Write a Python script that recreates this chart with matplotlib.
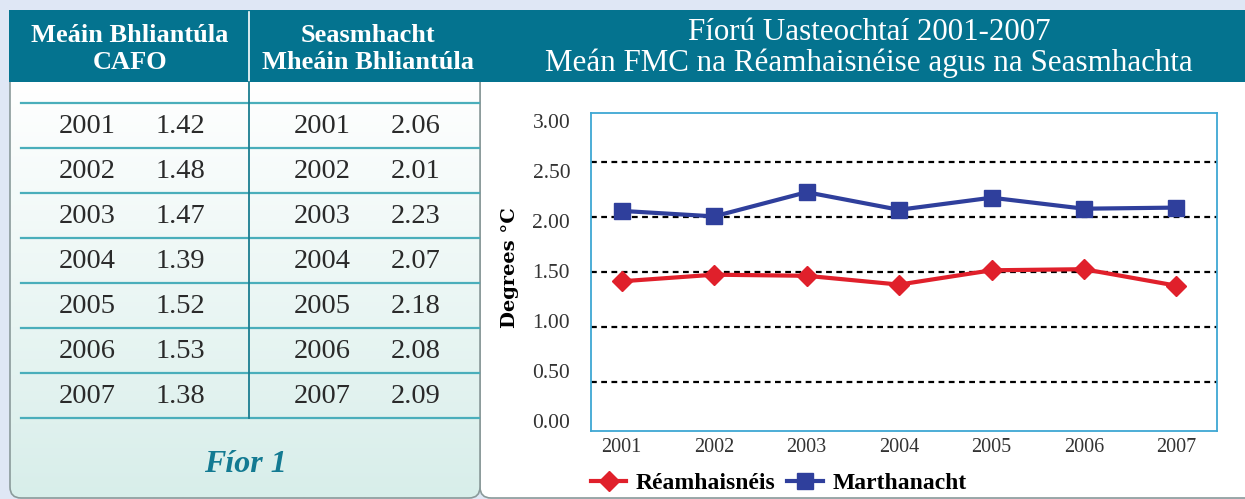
import numpy as np
import matplotlib.pyplot as plt
from matplotlib.patches import FancyBboxPatch, Rectangle
from matplotlib.colors import LinearSegmentedColormap
from matplotlib.ticker import FormatStrFormatter

years = [2001, 2002, 2003, 2004, 2005, 2006, 2007]
cafo = [1.42, 1.48, 1.47, 1.39, 1.52, 1.53, 1.38]
seasmhacht = [2.06, 2.01, 2.23, 2.07, 2.18, 2.08, 2.09]
grid_levels = [0.5, 1.0, 1.5, 2.0, 2.5]
label_ticks = [0.0, 0.5, 1.0, 1.5, 2.0, 2.5, 3.0]

head_left = "Meáin Bhliantúla\nCAFO"
head_right = "Seasmhacht\nMheáin Bhliantúla"
title = "Fíorú Uasteochtaí 2001-2007\nMeán FMC na Réamhaisnéise agus na Seasmhachta"

SERIF = "Liberation Serif"
TEAL = "#04738f"
W, H = 1245, 499

fig = plt.figure(figsize=(12.45, 4.99), dpi=100)
fig.patch.set_facecolor("#dfe7f5")

# background layer in pixel coords
bg = fig.add_axes([0, 0, 1, 1])
bg.axis("off")

right_panel = FancyBboxPatch((480, 60), 900, 438, boxstyle="round,pad=0,rounding_size=11",
                             fc="white", ec="#8a9a9a", lw=1.2, zorder=1)
bg.add_patch(right_panel)

left_panel = FancyBboxPatch((10, 60), 470, 438, boxstyle="round,pad=0,rounding_size=11",
                            fc="none", ec="#8a9a9a", lw=1.2, zorder=3)
bg.add_patch(left_panel)
grad = np.linspace(0, 1, 256).reshape(-1, 1)
cmap = LinearSegmentedColormap.from_list("panel", ["#ffffff", "#d8eeea"])
im = bg.imshow(grad, cmap=cmap, extent=(10, 480, 498, 82), aspect="auto", zorder=2)
im.set_clip_path(left_panel)

bg.add_patch(Rectangle((9, 10), 1240, 72, fc=TEAL, ec="none", zorder=4))
bg.plot([249, 249], [12, 82], color="white", lw=1.2, zorder=5)

bg.text(130, 49, head_left, color="white", fontsize=19, fontweight="bold", family=SERIF,
        ha="center", va="center", linespacing=1.22, zorder=6)
bg.text(368, 49, head_right, color="white", fontsize=19, fontweight="bold", family=SERIF,
        ha="center", va="center", linespacing=1.22, zorder=6)
bg.text(869, 48, title, color="white", fontsize=22.3, family=SERIF,
        ha="center", va="center", linespacing=1.08, zorder=6)

# table
row_lines = 102.7 + 45 * np.arange(len(years) + 1)
for yl in row_lines:
    bg.plot([21, 479], [yl, yl], color="#4aaebb", lw=1.6, zorder=5)
bg.plot([249, 249], [82, 418], color="#1b7d90", lw=1.3, zorder=5)
for i, yr in enumerate(years):
    yc = row_lines[i] + 24
    kw = dict(fontsize=20.5, family=SERIF, color="#2a2a2a", ha="center", va="center", zorder=6)
    bg.text(87, yc, str(yr), **kw)
    bg.text(180, yc, f"{cafo[i]:.2f}", **kw)
    bg.text(322, yc, str(yr), **kw)
    bg.text(416, yc, f"{seasmhacht[i]:.2f}", **kw)

bg.text(245, 464, "Fíor 1", fontsize=23, fontweight="bold", style="italic", family=SERIF,
        color="#137a92", ha="center", va="center", zorder=6)

bg.set_xlim(0, W)
bg.set_ylim(H, 0)

# chart
ax = fig.add_axes([591 / W, (H - 431) / H, 626 / W, 318 / H])
ax.set_facecolor("white")
for g in grid_levels:
    ax.axhline(g, color="black", ls=(0, (2.6, 2.0)), lw=1.6, zorder=1)
ax.plot(years, cafo, color="#e0202b", lw=3, marker="D", ms=10, label="Réamhaisnéis", zorder=3)
ax.plot(years, seasmhacht, color="#2f3f9c", lw=3, marker="s", ms=11, label="Marthanacht", zorder=3)
ax.set_xlim(2000.668, 2007.439)
ax.set_ylim(0.059, 2.95)
ax.set_xticks(years)
ax.tick_params(axis="x", length=0, pad=5, labelsize=14.5, labelcolor="#333333")
for lab in ax.get_xticklabels():
    lab.set_family(SERIF)
ax.set_yticks([])
for s in ax.spines.values():
    s.set_color("#3ea7d3")
    s.set_linewidth(1.3)

ax2 = ax.twinx()
ax2.yaxis.tick_left()
ax2.set_ylim(-0.103, 3.077)
ax2.set_yticks(label_ticks)
ax2.yaxis.set_major_formatter(FormatStrFormatter("%.2f"))
ax2.tick_params(axis="y", length=0, pad=15, labelsize=15.5, labelcolor="#333333")
for lab in ax2.get_yticklabels():
    lab.set_family(SERIF)
for s in ax2.spines.values():
    s.set_visible(False)
ax2.set_ylabel("Degrees °C", family="DejaVu Serif", fontweight="bold", fontsize=14)
ax2.yaxis.set_label_position("left")
ax2.yaxis.set_label_coords((519 - 591) / 626, (431 - 268) / 318)

ax.legend(loc="center left", bbox_to_anchor=(0, -0.164), ncol=2, frameon=False,
          prop={"family": SERIF, "weight": "bold", "size": 17},
          handlelength=1.5, handletextpad=0.4, columnspacing=0.5,
          borderaxespad=0, borderpad=0)

fig.savefig("out.png", dpi=100, facecolor=fig.get_facecolor())
